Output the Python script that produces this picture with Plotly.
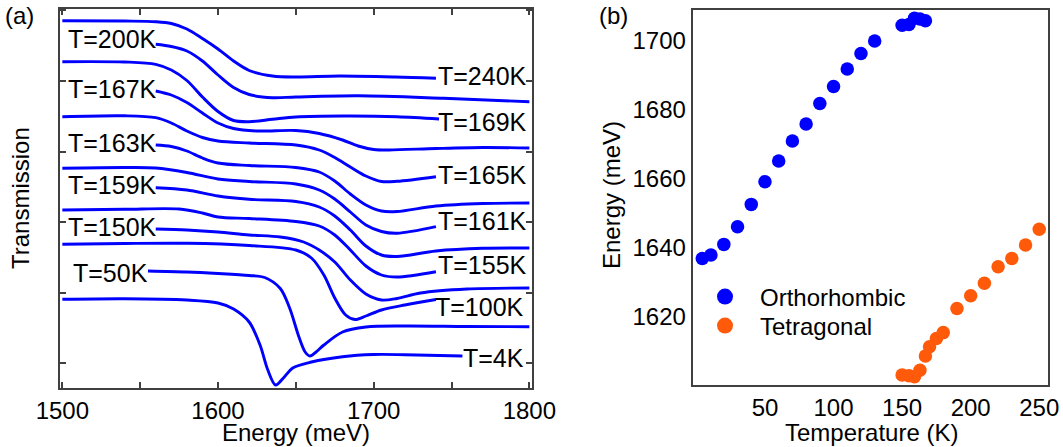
import plotly.graph_objects as go

W, H = 1063, 447
FONT = "Arial, 'Liberation Sans', sans-serif"
BLUE = "#0000ff"
ORANGE = "#ff5a0a"
AXC = "#404040"

# ---------------- panel (a): transmission spectra (arb. units, offset) ----------------
E_240 = [1500, 1540, 1560, 1570, 1580, 1590, 1600, 1610, 1620, 1635, 1650, 1678, 1714, 1740]
T_240 = [367.3, 367, 366.3, 364.5, 359, 349.5, 339, 327, 317.5, 312, 311, 312, 311, 309.7]

E_200 = [1560, 1570, 1580, 1590, 1600, 1610, 1620, 1635, 1650, 1690, 1745, 1800]
T_200 = [343.7, 341.5, 337, 327, 313, 300.5, 293.5, 290.3, 291, 292.2, 289.7, 286.3]

E_169 = [1500, 1540, 1560, 1570, 1580, 1590, 1600, 1610, 1620, 1635, 1650, 1680, 1715, 1742]
T_169 = [326.3, 326, 323.7, 318, 307.5, 291, 276.5, 267.5, 266.3, 268.7, 271, 272, 271.3, 269]

E_167 = [1560, 1570, 1580, 1590, 1600, 1610, 1625, 1650, 1665, 1680, 1690, 1700, 1710, 1740, 1770, 1800]
T_167 = [297, 293, 285.5, 275, 265, 259.5, 257, 257.5, 254.5, 248, 242, 238.5, 238, 239.5, 240.5, 240]

E_165 = [1500, 1540, 1560, 1570, 1580, 1590, 1600, 1620, 1650, 1665, 1675, 1685, 1695, 1705, 1715, 1740]
T_165 = [271.3, 272.2, 270.3, 265, 257, 250.5, 247, 245, 243, 238, 230.5, 221, 212, 206.5, 206.7, 211.3]

E_163 = [1560, 1570, 1580, 1590, 1600, 1620, 1650, 1665, 1675, 1685, 1695, 1705, 1715, 1740, 1770, 1800]
T_163 = [243, 241.5, 237, 230, 225, 222.5, 220.5, 216, 207, 194, 183, 177, 176.5, 182, 184.5, 185]

E_161 = [1500, 1540, 1560, 1580, 1600, 1620, 1650, 1665, 1675, 1685, 1695, 1705, 1715, 1740]
T_161 = [219.7, 220.5, 220, 215.5, 209, 206.5, 204, 198, 189, 176, 163, 156.5, 154.7, 161.3]

E_159 = [1560, 1580, 1600, 1620, 1650, 1665, 1675, 1685, 1695, 1705, 1715, 1740, 1770, 1800]
T_159 = [200.3, 198, 192, 188.7, 186.5, 181, 172, 158, 142, 133, 131.5, 137, 139.7, 140]

E_155 = [1500, 1540, 1575, 1590, 1600, 1620, 1650, 1665, 1675, 1685, 1695, 1705, 1715, 1740]
T_155 = [178, 178.7, 179, 175, 171, 169.5, 166.5, 162, 153, 138, 122, 113, 111, 116.3]

E_150 = [1560, 1580, 1600, 1620, 1640, 1655, 1665, 1675, 1685, 1695, 1705, 1715, 1730, 1760, 1800]
T_150 = [159, 158, 156, 153, 151, 146, 138, 126, 108, 94, 88, 89.5, 95, 99, 100]

E_100 = [1500, 1540, 1580, 1620, 1650, 1660, 1668, 1675, 1682, 1688, 1695, 1705, 1720, 1740]
T_100 = [143.7, 144.5, 144.7, 142.5, 138, 130, 113, 90, 73, 68.5, 72, 78, 83, 88.5]

E_50 = [1555, 1580, 1600, 1620, 1630, 1640, 1646, 1652, 1656, 1659, 1663, 1668, 1680, 1695, 1720, 1760, 1800]
T_50 = [117, 116, 114.5, 112.5, 110.5, 99.5, 80, 51, 36, 32, 36, 43, 56, 61, 62, 61.5, 61.3]

E_4 = [1500, 1540, 1580, 1600, 1610, 1620, 1627, 1632, 1637, 1642, 1648, 1660, 1680, 1700, 1720, 1757]
T_4 = [88.7, 89.3, 88, 85, 79, 66, 43, 18, 3, 10, 20, 26, 31.3, 33.5, 33.3, 32]

spectra = [
    (E_240, T_240), (E_200, T_200), (E_169, T_169), (E_167, T_167),
    (E_165, T_165), (E_163, T_163), (E_161, T_161), (E_159, T_159),
    (E_155, T_155), (E_150, T_150), (E_100, T_100), (E_50, T_50), (E_4, T_4),
]

# curve labels
left_labels = ["T=200K", "T=167K", "T=163K", "T=159K", "T=150K", "T=50K"]
left_lx = [66.7, 66.7, 66.7, 66.7, 66.7, 71.7]
left_ly = [39.3, 89, 143.3, 185, 226.7, 272.7]
right_labels = ["T=240K", "T=169K", "T=165K", "T=161K", "T=155K", "T=100K", "T=4K"]
right_rx = [528.3, 528.3, 528.3, 528.3, 528.3, 525, 525]
right_ry = [75.7, 121.7, 175, 221, 265, 306.7, 358.3]

# ---------------- panel (b): peak energies ----------------
T_ortho = [4.3, 10.6, 20, 30, 40, 50, 60, 70, 80, 90, 100, 110, 120, 130, 150, 155, 159, 163, 167]
E_ortho = [1636.9, 1637.9, 1641, 1646.1, 1652.6, 1659.2, 1665.2, 1671, 1675.9, 1681.9,
           1686.8, 1691.9, 1696.4, 1700, 1704.6, 1704.8, 1706.6, 1706.4, 1705.9]
T_tetra = [150, 155, 159, 163, 167, 170, 175, 180, 190, 200, 210, 220, 230, 240, 250]
E_tetra = [1603.1, 1602.9, 1602.6, 1604.5, 1608.6, 1611.3, 1613.7, 1615.4, 1622.4,
           1626.1, 1629.7, 1634.5, 1636.9, 1640.8, 1645.4]


def X(px):
    return px / W


def Y(py):
    return (H - py) / H


fig = go.Figure()

for e, t in spectra:
    fig.add_trace(go.Scatter(x=e, y=t, mode="lines",
                             line=dict(color=BLUE, width=2.9, shape="spline", smoothing=0.9),
                             showlegend=False, hoverinfo="skip", xaxis="x", yaxis="y"))

fig.add_trace(go.Scatter(x=T_ortho, y=E_ortho, mode="markers", marker=dict(color=BLUE, size=13.5),
                         showlegend=False, xaxis="x2", yaxis="y2"))
fig.add_trace(go.Scatter(x=T_tetra, y=E_tetra, mode="markers", marker=dict(color=ORANGE, size=13.5),
                         showlegend=False, xaxis="x2", yaxis="y2"))
# legend entries (larger symbols as in the original legend)
fig.add_trace(go.Scatter(x=[None], y=[None], mode="markers", marker=dict(color=BLUE, size=17),
                         name="Orthorhombic", xaxis="x2", yaxis="y2", legend="legend"))
fig.add_trace(go.Scatter(x=[None], y=[None], mode="markers", marker=dict(color=ORANGE, size=17),
                         name="Tetragonal", xaxis="x2", yaxis="y2", legend="legend2"))

lab_font = dict(size=25, color="black", family=FONT)
ann = []
for txt, lx, ly in zip(left_labels, left_lx, left_ly):
    ann.append(dict(text=txt, x=X(lx), y=Y(ly), xref="paper", yref="paper", xanchor="left", yanchor="middle",
                    showarrow=False, font=lab_font, borderpad=0))
for txt, rx, ry in zip(right_labels, right_rx, right_ry):
    ann.append(dict(text=txt, x=X(rx), y=Y(ry), xref="paper", yref="paper", xanchor="right", yanchor="middle",
                    showarrow=False, font=lab_font, borderpad=0))

tfont = dict(size=24, family=FONT, color="black")


def title(text, px, py, angle=0):
    return dict(text=text, x=X(px), y=Y(py), xref="paper", yref="paper", xanchor="center", yanchor="middle",
                showarrow=False, textangle=angle, font=tfont)


ann += [
    title("(a)", 19, 16),
    title("(b)", 613, 16),
    title("Energy (meV)", 296, 432),
    title("Transmission", 20, 198, -90),
    title("Temperature (K)", 871, 432),
    title("Energy (meV)", 611, 195, -90),
]

leg_common = dict(xanchor="left", yanchor="middle", bgcolor="rgba(0,0,0,0)",
                  font=dict(size=24, family=FONT, color="black"), itemwidth=60)

fig.update_layout(
    width=W, height=H,
    margin=dict(l=0, r=0, t=0, b=0),
    paper_bgcolor="white", plot_bgcolor="white",
    font=dict(family=FONT, size=24, color="black"),
    annotations=ann,
    xaxis=dict(domain=[X(60), X(532)], range=[1498.5, 1801.7], tick0=1500, dtick=100,
               ticks="inside", ticklen=6, tickwidth=1.5, tickcolor=AXC,
               minor=dict(dtick=50, ticks="inside", ticklen=6, tickwidth=1.5, tickcolor=AXC),
               showline=True, linecolor=AXC, linewidth=2, mirror="ticks", showgrid=False, zeroline=False,
               tickfont=tfont, anchor="y", automargin=False),
    yaxis=dict(domain=[Y(387.7), Y(9)], range=[0.3, 379], tick0=24.7, dtick=70.6,
               ticks="inside", ticklen=6, tickwidth=1.5, tickcolor=AXC, showticklabels=False,
               showline=True, linecolor=AXC, linewidth=2, mirror="ticks", showgrid=False, zeroline=False,
               anchor="x", automargin=False),
    xaxis2=dict(domain=[X(692.7), X(1048.3)], range=[-2.7, 256.6], tickvals=[50, 100, 150, 200, 250],
                ticks="", showline=True, linecolor=AXC, linewidth=2, mirror=True, showgrid=False, zeroline=False,
                tickfont=tfont, anchor="y2", automargin=False),
    yaxis2=dict(domain=[Y(385), Y(10)], range=[1600.2, 1709], tickvals=[1620, 1640, 1660, 1680, 1700],
                ticks="", showline=True, linecolor=AXC, linewidth=2, mirror=True, showgrid=False, zeroline=False,
                tickfont=tfont, anchor="x2", automargin=False),
    legend=dict(x=X(690), y=Y(297), **leg_common),
    legend2=dict(x=X(690), y=Y(326), **leg_common),
    showlegend=True,
)

fig.write_html("out.html", post_script="document.body.style.margin='0';",
               config={"displayModeBar": False})
